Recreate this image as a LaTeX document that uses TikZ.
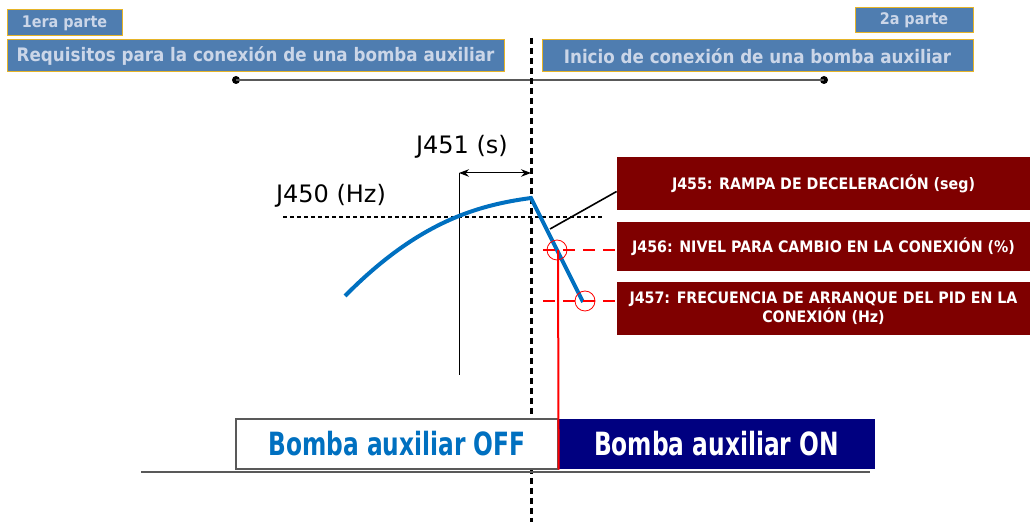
\documentclass[tikz,border=0pt]{standalone}
\usepackage{fontspec}
\setmainfont{DejaVu Sans}
\newfontfamily\condfont{DejaVu Sans Condensed}
\usepackage{tikz}
\usetikzlibrary{arrows.meta}

\definecolor{stepblue}{RGB}{79,125,176}
\definecolor{steptext}{RGB}{203,214,232}
\definecolor{stepgold}{RGB}{230,180,40}
\definecolor{parred}{RGB}{127,0,0}
\definecolor{onblue}{RGB}{0,0,128}
\definecolor{curveblue}{RGB}{0,112,192}
\newcommand{\squeezed}[1]{\scalebox{0.81}[1]{#1}}

\begin{document}
\begin{tikzpicture}[x=0.5pt,y=-0.5pt,
	part_node/.style={draw=stepgold,fill=stepblue,text=steptext,line width=0.5pt,inner sep=0pt,font=\condfont\bfseries},
	par_node/.style={fill=parred,text=white,inner sep=0pt,minimum width=206.5pt,align=center,font=\condfont\bfseries\fontsize{7.9}{9.5}\selectfont},
	state_node/.style={inner sep=0pt,minimum width=160pt,minimum height=25pt,font=\condfont\bfseries\fontsize{16}{18}\selectfont}]
	\useasboundingbox (0,0) rectangle (1032,522);
	% parts of the sequence
	\node[part_node,minimum width=57.5pt,minimum height=13pt,font=\condfont\bfseries\fontsize{8}{9}\selectfont] (1) at (64.5,23) {1era parte};
	\node[part_node,minimum width=248.5pt,minimum height=16pt,font=\condfont\bfseries\fontsize{9.3}{11}\selectfont] (2) at (255.5,56) {Requisitos para la conexión de una bomba auxiliar};
	\node[part_node,minimum width=59pt,minimum height=12.5pt,font=\condfont\bfseries\fontsize{8}{9}\selectfont] (3) at (914,20.5) {2a parte};
	\node[part_node,minimum width=215.5pt,minimum height=16pt,font=\condfont\bfseries\fontsize{9.3}{11}\selectfont] (4) at (757.5,56) {Inicio de conexión de una bomba auxiliar};
	\fill (236,80) circle (2pt) coordinate (a);
	\fill (824,80) circle (2pt) coordinate (b);
	\draw[gray!70!black,line width=0.6pt] (a) -- (b);
	% switching instant
	\coordinate (t0) at (531,38);
	\coordinate (t1) at (531,522);
	\draw[line width=1.5pt,dash pattern=on 3pt off 2pt] (t0) -- (t1);
	% parameters
	\node[par_node,minimum height=26.5pt] (5) at (823.5,183.5) {J455: RAMPA DE DECELERACIÓN (seg)};
	\node[par_node,minimum height=24.5pt] (6) at (823.5,246.5) {J456: NIVEL PARA CAMBIO EN LA CONEXIÓN (\%)};
	\node[par_node,minimum height=26.5pt] (7) at (823.5,308.5) {J457: FRECUENCIA DE ARRANQUE DEL PID EN LA\\CONEXIÓN (Hz)};
	% frequency curve
	\node[font=\fontsize{12}{14}\selectfont] (8) at (462,147) {J451 (s)};
	\node[font=\fontsize{12}{14}\selectfont] (9) at (331,196) {J450 (Hz)};
	\coordinate (c0) at (283,217);
	\coordinate (c1) at (602,217);
	\draw[line width=1pt,dash pattern=on 2pt off 1.5pt] (c0) -- (c1);
	\coordinate (d0) at (459,173);
	\coordinate (d1) at (531,173);
	\coordinate (d2) at (459,375);
	\draw[line width=0.5pt] (d0) -- (d2);
	\draw[line width=0.5pt,{Stealth[length=5pt]}-{Stealth[length=5pt]}] (d0) -- (d1);
	\coordinate (f0) at (345,296);
	\coordinate (f1) at (531,198);
	\coordinate (f2) at (583,302);
	\draw[curveblue,line width=2pt] (f0) .. controls (420,220) and (480,205) .. (f1) -- (f2);
	\coordinate (e) at (550,229);
	\draw[line width=0.8pt] (e) -- ([yshift=-4pt]5.west);
	% switching levels
	\coordinate (g1) at (557,250);
	\coordinate (g2) at (585,301);
	\draw[red,line width=0.4pt] (g1) circle (5pt) (g2) circle (5pt);
	\coordinate (h1) at (543,250);
	\coordinate (h2) at (543,301);
	\draw[red,line width=1pt,dash pattern=on 6pt off 4pt] (h1) -- (h1 -| 6.west);
	\draw[red,line width=1pt,dash pattern=on 6pt off 4pt] (h2) -- (h2 -| 7.west);
	% pump states
	\node[state_node,draw=gray!70!black,fill=white,text=curveblue,line width=0.6pt,minimum width=161pt] (10) at (397,444) {\squeezed{Bomba auxiliar OFF}};
	\node[state_node,fill=onblue,text=white,minimum width=158.5pt] (11) at (716.5,444) {\squeezed{Bomba auxiliar ON}};
	\draw[red,line width=1pt] (558,250) -- (10.south east);
	\coordinate (k0) at (141,472);
	\coordinate (k1) at (870,472);
	\draw[gray!70!black,line width=0.6pt] (k0) -- (k1);
\end{tikzpicture}
\end{document}
